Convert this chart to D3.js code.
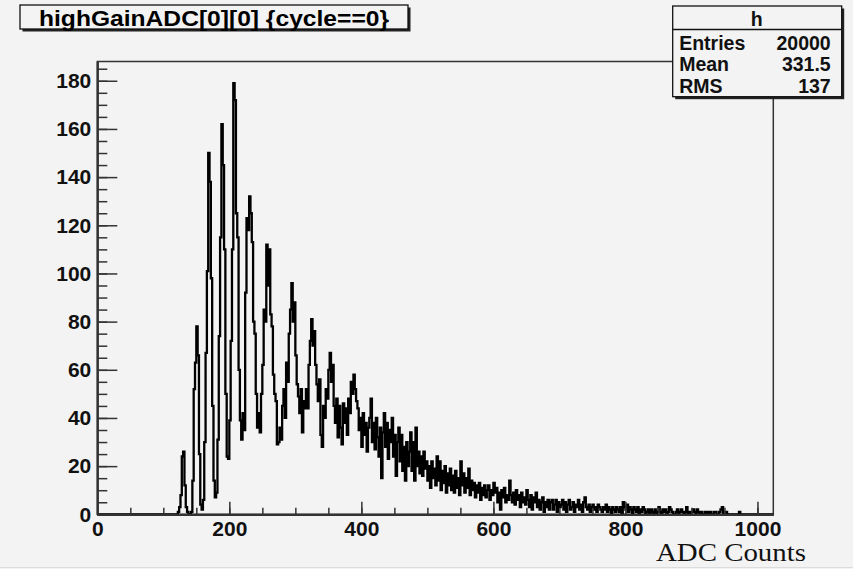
<!DOCTYPE html>
<html>
<head>
<meta charset="utf-8">
<script src="https://cdn.jsdelivr.net/npm/d3@7"></script>
<style>
  body { margin: 0; background: #f3f3f3; }
  svg { display: block; }
  .axis text { font-family: "Liberation Sans", Arial, sans-serif; font-weight: bold; font-size: 21px; fill: #111; }
  .axis path, .axis line { stroke: #333; }
</style>
</head>
<body>
<div class="chart"></div>
<script>
var svgWidth = 853;
var svgHeight = 569;

var margin = { top: 61.5, right: 79.7, bottom: 54.7, left: 97.3 };
var width = svgWidth - margin.left - margin.right;
var height = svgHeight - margin.top - margin.bottom;

// Histogram: counts per 2-ADC bin, first bin starts at ADC 120
var binLow = 120;
var binWidth = 2;
var counts = [
  0, 1, 3, 8, 24, 26, 12, 3, 1, 0,          // 120
  0, 1, 14, 52, 63, 78, 66, 25, 4, 2,       // 140
  6, 30, 67, 101, 150, 138, 98, 45, 14, 7,  // 160
  9, 31, 74, 115, 162, 145, 110, 50, 24, 23, // 180
  39, 72, 110, 179, 172, 125, 115, 60, 39, 31, // 200
  42, 35, 92, 123, 118, 132, 125, 113, 80, 75, // 220
  50, 36, 42, 34, 50, 62, 85, 80, 112, 95,  // 240
  110, 83, 78, 58, 50, 47, 29, 30, 36, 31,  // 260
  45, 52, 40, 63, 55, 75, 85, 96, 80, 88,   // 280
  66, 54, 49, 42, 52, 34, 47, 44, 52, 44,   // 300
  62, 72, 81, 70, 76, 62, 54, 47, 56, 33,   // 320
  28, 45, 40, 52, 48, 60, 67, 55, 62, 45,   // 340
  38, 48, 32, 45, 36, 29, 46, 38, 44, 33,   // 360
  48, 42, 55, 50, 58, 52, 47, 44, 35, 40,   // 380
  28, 42, 33, 38, 26, 36, 40, 48, 30, 38,   // 400
  27, 40, 32, 24, 36, 15, 34, 42, 28, 38,   // 420
  23, 35, 30, 40, 24, 33, 16, 30, 36, 22,   // 440
  33, 18, 28, 14, 30, 20, 26, 34, 18, 30,   // 460
  14, 36, 20, 26, 17, 24, 16, 26, 19, 22,   // 480
  14, 20, 11, 22, 15, 19, 12, 24, 14, 22,   // 500
  10, 18, 13, 20, 9, 17, 12, 19, 10, 16,    // 520
  9, 18, 11, 15, 8, 22, 12, 17, 9, 15,      // 540
  11, 19, 8, 14, 10, 13, 7, 12, 9, 13,      // 560
  6, 11, 8, 12, 7, 10, 12, 6, 10, 8,        // 580
  13, 9, 11, 5, 9, 2, 10, 7, 11, 5,         // 600
  8, 6, 14, 8, 5, 9, 4, 10, 6, 8,           // 620
  3, 9, 5, 7, 4, 10, 6, 3, 8, 2,            // 640
  7, 5, 9, 3, 6, 2, 5, 7, 1, 5,             // 660
  3, 6, 2, 5, 6, 2, 4, 6, 1, 5,             // 680
  3, 4, 6, 2, 5, 1, 4, 6, 2, 3,             // 700
  5, 1, 4, 3, 6, 2, 4, 1, 5, 7,             // 720
  3, 2, 4, 1, 3, 4, 2, 3, 1, 4,             // 740
  3, 2, 1, 3, 2, 4, 1, 3, 2, 0,             // 760
  3, 2, 1, 3, 2, 1, 3, 0, 5, 3,             // 780
  2, 4, 1, 3, 2, 0, 3, 2, 1, 3,             // 800
  0, 2, 1, 3, 2, 0, 1, 2, 0, 2,             // 820
  1, 0, 2, 0, 1, 3, 1, 0, 2, 1,             // 840
  2, 0, 1, 3, 2, 1, 0, 0, 1, 2,             // 860
  0, 1, 2, 1, 0, 1, 3, 0, 1, 0,             // 880
  1, 2, 1, 0, 2, 1, 0, 1, 0, 0,             // 900
  1, 0, 1, 0, 1, 0, 0, 1, 1, 0,             // 920
  0, 1, 2, 3, 0, 0, 1, 0, 0, 0,             // 940
  0, 0, 0, 0, 0, 0, 1, 0, 0, 0              // 960
];

var xTicks = [0, 200, 400, 600, 800, 1000];
var yTicks = [0, 20, 40, 60, 80, 100, 120, 140, 160, 180];

var titleText = "highGainADC[0][0] {cycle==0}";
var statsName = "h";
var statLabels = ["Entries", "Mean", "RMS"];
var statValues = ["20000", "331.5", "137"];
var xTitle = "ADC Counts";

var svg = d3.select(".chart")
  .append("svg")
  .attr("width", svgWidth)
  .attr("height", svgHeight);

svg.append("rect")
  .attr("width", svgWidth)
  .attr("height", svgHeight)
  .attr("fill", "#f3f3f3");

// faint line at the bottom of the canvas
svg.append("line")
  .attr("x1", 0).attr("x2", svgWidth)
  .attr("y1", 567.5).attr("y2", 567.5)
  .attr("stroke", "#dcdcdc");

var chartGroup = svg.append("g")
  .attr("transform", `translate(${margin.left}, ${margin.top})`);

// Scales
var xScale = d3.scaleLinear().domain([0, 1024]).range([0, width]);
var yScale = d3.scaleLinear().domain([0, 188]).range([height, 0]);

// Frame
chartGroup.append("rect")
  .attr("width", width)
  .attr("height", height)
  .attr("fill", "none")
  .attr("stroke", "#333")
  .attr("stroke-width", 1.5);

// Histogram as a step line
var pts = [[0, 0], [binLow, 0]];
counts.forEach(function(c, i) {
  pts.push([binLow + i * binWidth, c]);
});
var lastEdge = binLow + counts.length * binWidth;
pts.push([lastEdge, 0]);
pts.push([1024, 0]);

var line = d3.line()
  .x(d => xScale(d[0]))
  .y(d => yScale(d[1]))
  .curve(d3.curveStepAfter);

chartGroup.append("path")
  .datum(pts)
  .attr("d", line)
  .attr("fill", "none")
  .attr("stroke", "#000")
  .attr("stroke-width", 2.3)
  .attr("stroke-linejoin", "miter");

// Axes: minor ticks first
chartGroup.append("g")
  .attr("class", "axis")
  .call(d3.axisLeft(yScale).tickValues(d3.range(0, 188, 5)).tickSize(-10).tickSizeOuter(0).tickFormat(""))
  .call(g => g.selectAll("line").attr("stroke-width", 1.5));

chartGroup.append("g")
  .attr("class", "axis")
  .attr("transform", `translate(0, ${height})`)
  .call(d3.axisBottom(xScale).tickValues(d3.range(0, 1024, 50)).tickSize(-6.5).tickSizeOuter(0).tickFormat(""))
  .call(g => g.selectAll("line").attr("stroke-width", 1.5));

var leftAxis = d3.axisLeft(yScale).tickValues(yTicks).tickSize(-20).tickSizeOuter(0).tickPadding(6)
  .tickFormat(d3.format("d"));
var bottomAxis = d3.axisBottom(xScale).tickValues(xTicks).tickSize(-12.5).tickSizeOuter(0).tickPadding(7)
  .tickFormat(d3.format("d"));

chartGroup.append("g")
  .attr("class", "axis")
  .call(leftAxis)
  .call(g => g.select(".domain").attr("stroke-width", 2.2))
  .call(g => g.selectAll("line").attr("stroke-width", 1.5));

chartGroup.append("g")
  .attr("class", "axis")
  .attr("transform", `translate(0, ${height})`)
  .call(bottomAxis)
  .call(g => g.select(".domain").attr("stroke-width", 2.2))
  .call(g => g.selectAll("line").attr("stroke-width", 1.5));

// Title box with shadow
var tb = { x: 20, y: 5, w: 388, h: 24 };
svg.append("rect")
  .attr("x", tb.x + 2.5).attr("y", tb.y + 2.5)
  .attr("width", tb.w).attr("height", tb.h)
  .attr("fill", "#222");
svg.append("rect")
  .attr("x", tb.x).attr("y", tb.y)
  .attr("width", tb.w).attr("height", tb.h)
  .attr("fill", "#f3f3f3")
  .attr("stroke", "#111")
  .attr("stroke-width", 1.3);
svg.append("text")
  .attr("x", tb.x + tb.w / 2)
  .attr("y", 26)
  .attr("text-anchor", "middle")
  .attr("textLength", 350)
  .attr("lengthAdjust", "spacingAndGlyphs")
  .style("font-family", "'Liberation Sans', Arial, sans-serif")
  .style("font-weight", "bold")
  .style("font-size", "22px")
  .text(titleText);

// Stats box
var sb = { x: 672.7, y: 6, w: 169, h: 90.7 };
svg.append("rect")
  .attr("x", sb.x + 2.5).attr("y", sb.y + 2.5)
  .attr("width", sb.w).attr("height", sb.h)
  .attr("fill", "#222");
svg.append("rect")
  .attr("x", sb.x).attr("y", sb.y)
  .attr("width", sb.w).attr("height", sb.h)
  .attr("fill", "#f3f3f3")
  .attr("stroke", "#111")
  .attr("stroke-width", 1.3);
svg.append("line")
  .attr("x1", sb.x).attr("x2", sb.x + sb.w)
  .attr("y1", 29.5).attr("y2", 29.5)
  .attr("stroke", "#111")
  .attr("stroke-width", 1.3);

var statFont = g => g
  .style("font-family", "'Liberation Sans', Arial, sans-serif")
  .style("font-weight", "bold")
  .style("font-size", "19.5px")
  .attr("fill", "#111");

svg.append("text")
  .attr("x", sb.x + sb.w / 2 - 0.5)
  .attr("y", 26)
  .attr("text-anchor", "middle")
  .call(statFont)
  .text(statsName);

var rowY = [49.5, 71, 92.5];
svg.selectAll(".statLabel")
  .data(statLabels)
  .enter()
  .append("text")
  .attr("class", "statLabel")
  .attr("x", sb.x + 6.5)
  .attr("y", (d, i) => rowY[i])
  .call(statFont)
  .text(d => d);

svg.selectAll(".statValue")
  .data(statValues)
  .enter()
  .append("text")
  .attr("class", "statValue")
  .attr("x", sb.x + 158)
  .attr("y", (d, i) => rowY[i])
  .attr("text-anchor", "end")
  .call(statFont)
  .text(d => d);

// X axis title
svg.append("text")
  .attr("x", 806)
  .attr("y", 561)
  .attr("text-anchor", "end")
  .attr("textLength", 150)
  .attr("lengthAdjust", "spacingAndGlyphs")
  .style("font-family", "'Liberation Serif', 'Times New Roman', serif")
  .style("font-size", "25px")
  .attr("fill", "#111")
  .text(xTitle);
</script>
</body>
</html>
